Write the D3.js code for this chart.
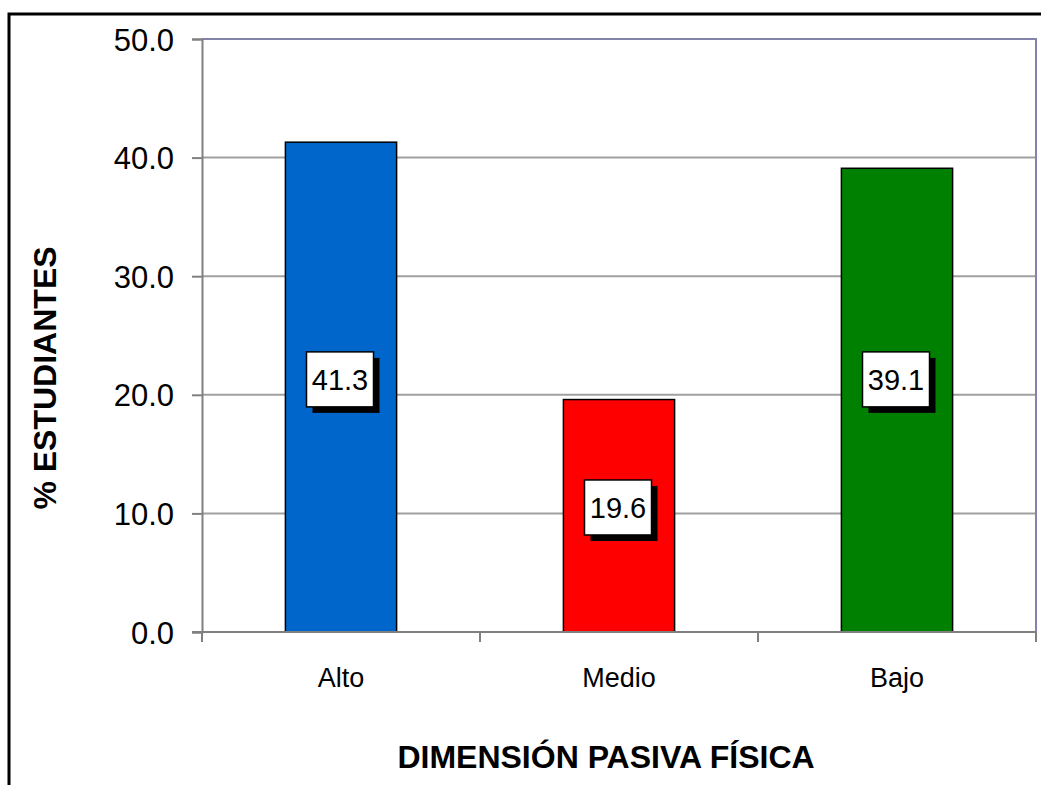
<!DOCTYPE html>
<html>
<head>
<meta charset="utf-8">
<style>
	body { margin: 0; background: #fff; }
	text { font-family: "Liberation Sans", Arial, sans-serif; fill: #000; }
</style>
</head>
<body>
<script src="https://cdn.jsdelivr.net/npm/d3@7/dist/d3.min.js"></script>
<script>

// Data
var categories = ["Alto", "Medio", "Bajo"];
var values = [41.3, 19.6, 39.1];
var barColors = ["#0066cc", "#ff0000", "#008000"];
var yTicks = [0, 10, 20, 30, 40, 50];
// where each value label sits, in axis units
var labelAt = [21.3, 10.5, 21.3];

// Dimensions
var width = 1041, height = 785;
var plot = {left: 202, right: 1036, top: 39, bottom: 632};

var svg = d3.select("body").append("svg")
	.attr("width", width)
	.attr("height", height);

// Outer frame (runs past the picture on right and bottom)
svg.append("rect")
	.attr("x", 9).attr("y", 14)
	.attr("width", 1200).attr("height", 900)
	.attr("fill", "none")
	.attr("stroke", "#000")
	.attr("stroke-width", 3);

// Scales
var x = d3.scaleBand()
	.domain(categories)
	.range([plot.left, plot.right])
	.paddingInner(0.6)
	.paddingOuter(0.3);

var y = d3.scaleLinear()
	.domain([0, 50])
	.range([plot.bottom, plot.top]);

// Gridlines
svg.append("g")
	.selectAll("line")
	.data(yTicks.filter(function(d) { return d > 0 && d < 50; }))
	.enter().append("line")
		.attr("x1", plot.left).attr("x2", plot.right)
		.attr("y1", function(d) { return y(d); })
		.attr("y2", function(d) { return y(d); })
		.attr("stroke", "#a0a0a0")
		.attr("stroke-width", 2);

// Plot border top / right
svg.append("path")
	.attr("d", "M" + plot.left + "," + y(50) + "H" + plot.right + "V" + y(0))
	.attr("fill", "none")
	.attr("stroke", "#8484aa")
	.attr("stroke-width", 2);

// Bars
svg.append("g")
	.selectAll("rect")
	.data(values)
	.enter().append("rect")
		.attr("x", function(d, i) { return x(categories[i]); })
		.attr("y", function(d) { return y(d); })
		.attr("width", x.bandwidth())
		.attr("height", function(d) { return y(0) - y(d); })
		.attr("fill", function(d, i) { return barColors[i]; })
		.attr("stroke", "#000")
		.attr("stroke-width", 1.5);

// Y axis
var yAxis = svg.append("g")
	.attr("transform", "translate(" + plot.left + ",0)")
	.call(d3.axisLeft(y).tickValues(yTicks).tickFormat(d3.format(".1f"))
		.tickSize(10).tickPadding(18));
yAxis.select(".domain").attr("stroke", "#808080").attr("stroke-width", 2);
yAxis.selectAll(".tick line").attr("stroke", "#808080").attr("stroke-width", 2);
yAxis.selectAll(".tick text")
	.attr("font-family", "Liberation Sans, Arial, sans-serif")
	.attr("font-size", 31)
	.attr("dy", "0.36em")
	.attr("fill", "#000");

// X axis line and category boundary ticks
svg.append("line")
	.attr("x1", plot.left - 10).attr("x2", plot.right)
	.attr("y1", y(0)).attr("y2", y(0))
	.attr("stroke", "#808080")
	.attr("stroke-width", 2);

var bounds = [plot.left].concat(categories.map(function(c, i) { return plot.left + x.step() * (i + 1); }));
svg.append("g")
	.selectAll("line")
	.data(bounds)
	.enter().append("line")
		.attr("x1", function(d) { return d; }).attr("x2", function(d) { return d; })
		.attr("y1", y(0)).attr("y2", y(0) + 10)
		.attr("stroke", "#808080")
		.attr("stroke-width", 2);

var xAxis = svg.append("g")
	.attr("transform", "translate(0," + y(0) + ")")
	.call(d3.axisBottom(x).tickSize(0).tickPadding(36));
xAxis.select(".domain").remove();
xAxis.selectAll(".tick text")
	.attr("font-family", "Liberation Sans, Arial, sans-serif")
	.attr("font-size", 27)
	.attr("fill", "#000");

// Value labels with shadow
var labels = svg.append("g")
	.selectAll("g")
	.data(values)
	.enter().append("g")
		.attr("transform", function(d, i) {
			return "translate(" + (x(categories[i]) + x.bandwidth() / 2 - 1) + "," + y(labelAt[i]) + ")";
		});

var boxW = 67, boxH = 55;
labels.append("rect")
	.attr("x", -boxW / 2 + 6).attr("y", -boxH / 2 + 6)
	.attr("width", boxW).attr("height", boxH)
	.attr("fill", "#000");
labels.append("rect")
	.attr("x", -boxW / 2).attr("y", -boxH / 2)
	.attr("width", boxW).attr("height", boxH)
	.attr("fill", "#fff")
	.attr("stroke", "#000")
	.attr("stroke-width", 1.5);
labels.append("text")
	.attr("text-anchor", "middle")
	.attr("y", 11)
	.attr("font-size", 29)
	.text(function(d) { return d3.format(".1f")(d); });

// Axis titles
svg.append("text")
	.attr("transform", "translate(56,378) rotate(-90)")
	.attr("text-anchor", "middle")
	.attr("font-size", 32)
	.attr("font-weight", "bold")
	.text("% ESTUDIANTES");

svg.append("text")
	.attr("x", 606)
	.attr("y", 768)
	.attr("text-anchor", "middle")
	.attr("font-size", 32)
	.attr("font-weight", "bold")
	.text("DIMENSIÓN PASIVA FÍSICA");

</script>
</body>
</html>
